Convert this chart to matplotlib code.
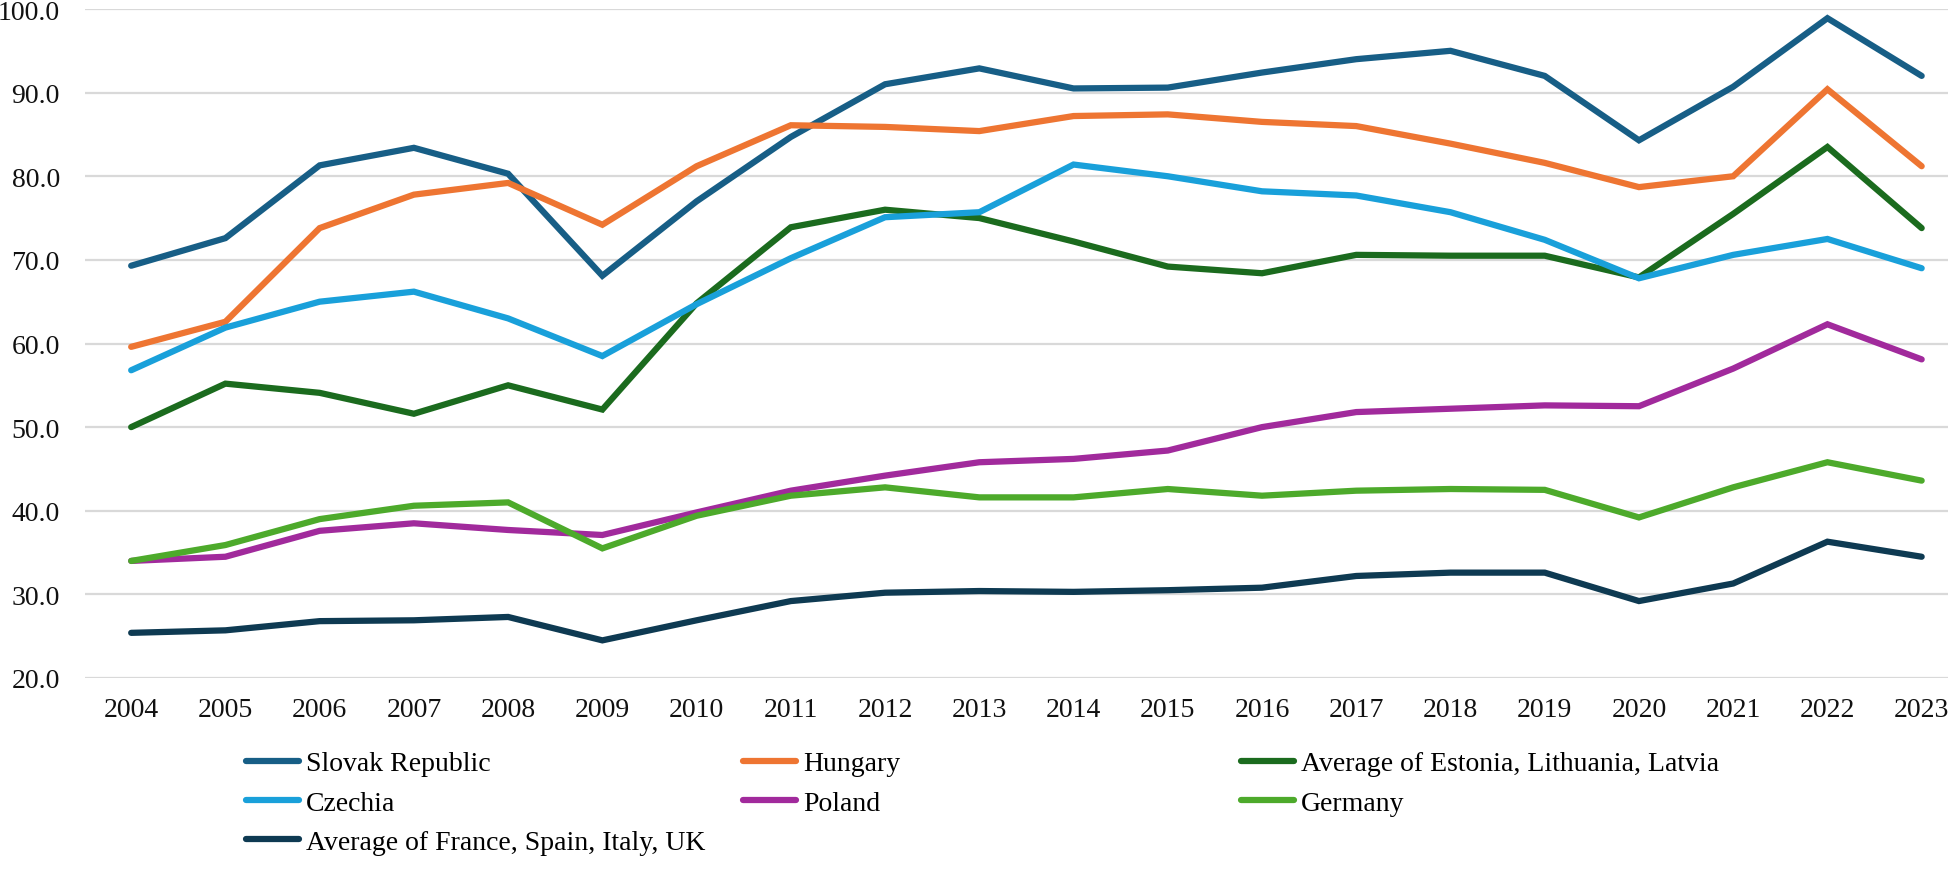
import matplotlib
matplotlib.use('Agg')
import matplotlib.pyplot as plt
from matplotlib.lines import Line2D

plt.rcParams['font.family'] = ['Liberation Serif', 'DejaVu Serif']

years = [str(y) for y in range(2004, 2024)]

slovak = [69.3, 72.6, 81.3, 83.4, 80.3, 68.1, 77.0, 84.7, 91.0, 92.9,
          90.5, 90.6, 92.4, 94.0, 95.0, 92.0, 84.3, 90.7, 98.9, 92.0]
hungary = [59.6, 62.6, 73.8, 77.8, 79.2, 74.2, 81.2, 86.1, 85.9, 85.4,
           87.2, 87.4, 86.5, 86.0, 83.9, 81.6, 78.7, 80.0, 90.4, 81.2]
baltics = [50.0, 55.2, 54.1, 51.6, 55.0, 52.1, 64.8, 73.9, 76.0, 75.0,
           72.2, 69.2, 68.4, 70.6, 70.5, 70.5, 67.9, 75.5, 83.5, 73.8]
czechia = [56.8, 61.9, 65.0, 66.2, 63.0, 58.5, 64.7, 70.2, 75.1, 75.7,
           81.4, 80.0, 78.2, 77.7, 75.7, 72.4, 67.8, 70.6, 72.5, 69.0]
poland = [34.0, 34.5, 37.6, 38.5, 37.7, 37.1, 39.8, 42.4, 44.2, 45.8,
          46.2, 47.2, 50.0, 51.8, 52.2, 52.6, 52.5, 57.0, 62.3, 58.1]
germany = [34.0, 35.9, 39.0, 40.6, 41.0, 35.5, 39.4, 41.8, 42.8, 41.6,
           41.6, 42.6, 41.8, 42.4, 42.6, 42.5, 39.2, 42.8, 45.8, 43.6]
west4 = [25.4, 25.7, 26.8, 26.9, 27.3, 24.5, 26.9, 29.2, 30.2, 30.4,
         30.3, 30.5, 30.8, 32.2, 32.6, 32.6, 29.2, 31.3, 36.3, 34.5]

series = [
    ('Slovak Republic', slovak, '#175E86'),
    ('Hungary', hungary, '#EE7532'),
    ('Average of Estonia, Lithuania, Latvia', baltics, '#1B6B1E'),
    ('Czechia', czechia, '#19A0DA'),
    ('Poland', poland, '#A12A9C'),
    ('Germany', germany, '#4DAA2B'),
    ('Average of France, Spain, Italy, UK', west4, '#0E3A52'),
]

fig = plt.figure(figsize=(19.49, 8.79), dpi=100)
ax = fig.add_axes([85 / 1949, 1 - 679 / 879, 1 - 85 / 1949, (679 - 10) / 879])

x = list(range(len(years)))
for name, vals, col in series:
    ax.plot(x, vals, color=col, linewidth=4.5, solid_capstyle='round',
            solid_joinstyle='miter', label=name)

ax.set_ylim(20, 100)
ax.set_yticks(range(20, 101, 10))
ax.set_yticklabels([f'{v:.1f}' for v in range(20, 101, 10)])
ax.set_xlim(-0.49, 19.29)
ax.set_xticks(x)
ax.set_xticklabels(years)
ax.grid(axis='y', color='#D9D9D9', linewidth=1.6)
ax.set_axisbelow(True)
for s in ax.spines.values():
    s.set_visible(False)
ax.tick_params(axis='both', length=0, labelsize=20, colors='#111111')
ax.tick_params(axis='y', pad=18)
ax.tick_params(axis='x', pad=14)

# legend in three fixed columns
cols = [[0, 3, 6], [1, 4], [2, 5]]
xpos = [246, 743, 1241]
for idx, xp in zip(cols, xpos):
    handles = [Line2D([], [], color=series[i][2], linewidth=4.5,
                      solid_capstyle='round') for i in idx]
    labels = [series[i][0] for i in idx]
    fig.legend(handles, labels, loc='upper left',
               bbox_to_anchor=(xp / 1949, 1 - 752 / 879), frameon=False,
               fontsize=20, handlelength=1.9, handletextpad=0.25,
               labelspacing=0.5, borderpad=0, borderaxespad=0)

fig.savefig('out.png', dpi=100)
